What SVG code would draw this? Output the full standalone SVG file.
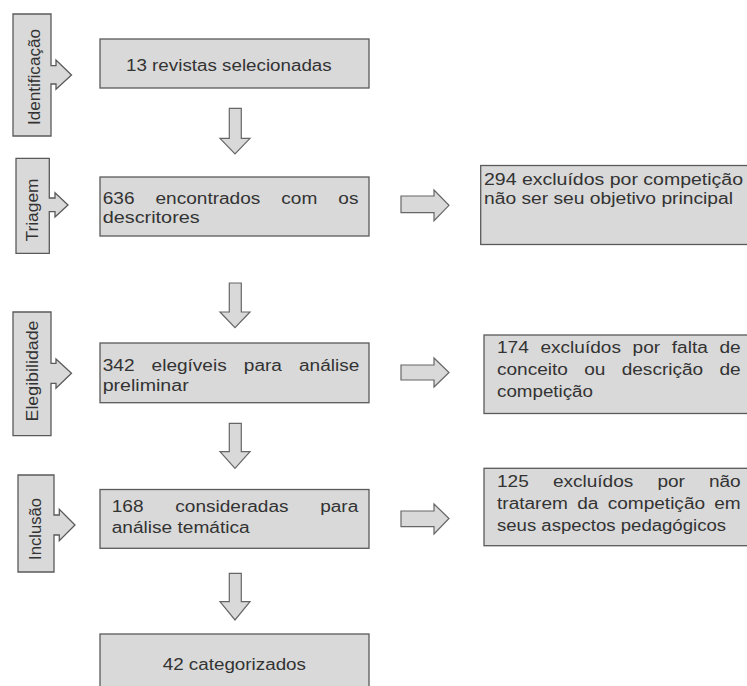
<svg xmlns="http://www.w3.org/2000/svg" width="747" height="686" viewBox="0 0 747 686">
<style>
.bx{fill:#d9d9d9;stroke:#5a5a5a;stroke-width:1.3}
.ar{fill:#d9d9d9;stroke:#666666;stroke-width:1.2;stroke-linejoin:miter}
.t{font-family:"Liberation Sans",Arial,sans-serif;font-size:16px;fill:#333333}
</style>
<rect width="747" height="686" fill="#ffffff"/>

<g id="stage-identificacao">
<path class="bx" d="M13,14 H51 V65.7 H56 V60 L71.5,75 L56,89.3 V84 H51 V136 H13 Z"/>
<text class="t" transform="translate(39.8,77) rotate(-90)" text-anchor="middle" textLength="96" lengthAdjust="spacingAndGlyphs">Identificação</text>
</g>
<g id="stage-triagem">
<path class="bx" d="M16,158.3 H49.3 V198 H55 V192.7 L68,205 L55,217 V211.7 H49.3 V253.3 H16 Z"/>
<text class="t" transform="translate(38.2,210) rotate(-90)" text-anchor="middle" textLength="63" lengthAdjust="spacingAndGlyphs">Triagem</text>
</g>
<g id="stage-elegibilidade">
<path class="bx" d="M13,312 H51 V363.3 H56 V359 L71.5,373.3 L56,388.3 V383.3 H51 V435.7 H13 Z"/>
<text class="t" transform="translate(38.2,371) rotate(-90)" text-anchor="middle" textLength="101" lengthAdjust="spacingAndGlyphs">Elegibilidade</text>
</g>
<g id="stage-inclusao">
<path class="bx" d="M18,475 H54 V515 H59.3 V509.3 L75,525 L59.3,540.7 V535 H54 V572 H18 Z"/>
<text class="t" transform="translate(40.8,529) rotate(-90)" text-anchor="middle" textLength="62" lengthAdjust="spacingAndGlyphs">Inclusão</text>
</g>

<g id="n13">
<rect class="bx" x="100" y="39" width="269" height="49"/>
<text class="t" x="126" y="71" textLength="205.7" lengthAdjust="spacingAndGlyphs">13 revistas selecionadas</text>
</g>
<g id="n636">
<rect class="bx" x="100" y="177" width="269" height="59"/>
<text class="t" y="204" x="102.7" textLength="31.8" lengthAdjust="spacingAndGlyphs">636</text>
<text class="t" y="204" x="155.5" textLength="104.8" lengthAdjust="spacingAndGlyphs">encontrados</text>
<text class="t" y="204" x="281.3" textLength="36" lengthAdjust="spacingAndGlyphs">com</text>
<text class="t" y="204" x="338.3" textLength="20.1" lengthAdjust="spacingAndGlyphs">os</text>
<text class="t" y="223" x="102.7" textLength="97" lengthAdjust="spacingAndGlyphs">descritores</text>
</g>
<g id="n294">
<rect class="bx" x="480.7" y="165.5" width="290" height="79"/>
<text class="t" x="484" y="185" textLength="259" lengthAdjust="spacingAndGlyphs">294 excluídos por competição</text>
<text class="t" x="484" y="203.5" textLength="249" lengthAdjust="spacingAndGlyphs">não ser seu objetivo principal</text>
</g>
<g id="n342">
<rect class="bx" x="100" y="343" width="269" height="59.7"/>
<text class="t" y="370.7" x="102.7" textLength="31.8" lengthAdjust="spacingAndGlyphs">342</text>
<text class="t" y="370.7" x="151.6" textLength="75.1" lengthAdjust="spacingAndGlyphs">elegíveis</text>
<text class="t" y="370.7" x="243.8" textLength="38.1" lengthAdjust="spacingAndGlyphs">para</text>
<text class="t" y="370.7" x="299" textLength="60.3" lengthAdjust="spacingAndGlyphs">análise</text>
<text class="t" y="391" x="102.7" textLength="86" lengthAdjust="spacingAndGlyphs">preliminar</text>
</g>
<g id="n174">
<rect class="bx" x="484" y="335" width="290" height="78.5"/>
<text class="t" y="353.3" x="497" textLength="31.8" lengthAdjust="spacingAndGlyphs">174</text>
<text class="t" y="353.3" x="540.5" textLength="80.4" lengthAdjust="spacingAndGlyphs">excluídos</text>
<text class="t" y="353.3" x="632.6" textLength="27.5" lengthAdjust="spacingAndGlyphs">por</text>
<text class="t" y="353.3" x="671.8" textLength="36" lengthAdjust="spacingAndGlyphs">falta</text>
<text class="t" y="353.3" x="719.5" textLength="21.2" lengthAdjust="spacingAndGlyphs">de</text>
<text class="t" y="375" x="497" textLength="70.9" lengthAdjust="spacingAndGlyphs">conceito</text>
<text class="t" y="375" x="584.2" textLength="21.2" lengthAdjust="spacingAndGlyphs">ou</text>
<text class="t" y="375" x="621.7" textLength="81.5" lengthAdjust="spacingAndGlyphs">descrição</text>
<text class="t" y="375" x="719.5" textLength="21.2" lengthAdjust="spacingAndGlyphs">de</text>
<text class="t" y="397" x="497" textLength="96" lengthAdjust="spacingAndGlyphs">competição</text>
</g>
<g id="n168">
<rect class="bx" x="100" y="489.5" width="269" height="58.8"/>
<text class="t" y="511.7" x="111.7" textLength="31.8" lengthAdjust="spacingAndGlyphs">168</text>
<text class="t" y="511.7" x="175.3" textLength="113.2" lengthAdjust="spacingAndGlyphs">consideradas</text>
<text class="t" y="511.7" x="320.2" textLength="38.1" lengthAdjust="spacingAndGlyphs">para</text>
<text class="t" y="533" x="111.7" textLength="138" lengthAdjust="spacingAndGlyphs">análise temática</text>
</g>
<g id="n125">
<rect class="bx" x="484" y="468.3" width="290" height="77.4"/>
<text class="t" y="487" x="497" textLength="31.8" lengthAdjust="spacingAndGlyphs">125</text>
<text class="t" y="487" x="552.9" textLength="80.4" lengthAdjust="spacingAndGlyphs">excluídos</text>
<text class="t" y="487" x="657.4" textLength="27.5" lengthAdjust="spacingAndGlyphs">por</text>
<text class="t" y="487" x="708.9" textLength="31.8" lengthAdjust="spacingAndGlyphs">não</text>
<text class="t" y="509" x="497" textLength="70.9" lengthAdjust="spacingAndGlyphs">tratarem</text>
<text class="t" y="509" x="577.2" textLength="21.2" lengthAdjust="spacingAndGlyphs">da</text>
<text class="t" y="509" x="607.7" textLength="97.4" lengthAdjust="spacingAndGlyphs">competição</text>
<text class="t" y="509" x="714.3" textLength="26.4" lengthAdjust="spacingAndGlyphs">em</text>
<text class="t" y="531" x="497" textLength="229" lengthAdjust="spacingAndGlyphs">seus aspectos pedagógicos</text>
</g>
<g id="n42">
<rect class="bx" x="100" y="634" width="269" height="70"/>
<text class="t" x="162.7" y="670" textLength="143.3" lengthAdjust="spacingAndGlyphs">42 categorizados</text>
</g>

<g id="connectors">
<path class="ar" d="M229.3,108.3 H241.3 V138.3 H250 L235,154 L220,138.3 H229.3 Z"/>
<path class="ar" d="M229.3,283 H241.3 V312 H250 L235,327.7 L220,312 H229.3 Z"/>
<path class="ar" d="M229.3,423.3 H241.3 V451.7 H250 L235,468.3 L220,451.7 H229.3 Z"/>
<path class="ar" d="M229.3,573.3 H241.3 V601.7 H250 L235,620 L220,601.7 H229.3 Z"/>
<path class="ar" d="M401,196 H434 V190 L449,205.3 L434,220.7 V212.7 H401 Z"/>
<path class="ar" d="M401,365 H434 V358 L449,372.5 L434,387 V380 H401 Z"/>
<path class="ar" d="M401,511 H434 V504 L449,518.5 L434,534 V526.7 H401 Z"/>
</g>
</svg>
